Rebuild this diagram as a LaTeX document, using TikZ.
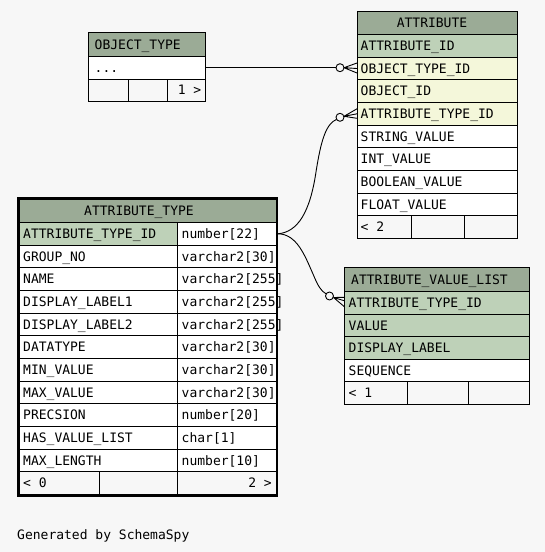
\documentclass[tikz,border=0pt]{standalone}
\usepackage{fontspec}
\newfontfamily\monofnt{DejaVu Sans Mono}
\definecolor{bgc}{HTML}{F7F7F7}
\definecolor{hdrc}{HTML}{9BAB96}
\definecolor{pkc}{HTML}{BED1B8}
\definecolor{idxc}{HTML}{F4F7DA}
\begin{document}
\begin{tikzpicture}[x=1pt,y=-1pt,
  cellbox/.style={draw=black, line width=1pt},
  txt/.style={font=\monofnt\fontsize{13}{13}\selectfont, anchor=base west, inner sep=0pt},
  txtr/.style={txt, anchor=base east},
  txtc/.style={txt, anchor=base},
  rel/.style={draw=black, line width=0.9pt},
  ring/.style={draw=black, line width=0.9pt, fill=bgc},
]
\fill[bgc] (0,0) rectangle (545,552);
\useasboundingbox (0,0) rectangle (545,552);

% ---------------- OBJECT_TYPE ----------------
\filldraw[fill=hdrc, cellbox] (88.5,32.5) rectangle (205,56);
\filldraw[fill=white, cellbox] (88.5,56) rectangle (205,79);
\draw[cellbox] (88.5,79) rectangle (205,101);
\draw[cellbox] (128.5,79) -- (128.5,101) (167.5,79) -- (167.5,101);
\node[txt] (otH) at (94.5,49) {OBJECT\_TYPE};
\node[txt] (otR) at (94.5,72.2) {...};
\node[txtr] (otF) at (201.5,94.7) {1 >};
\coordinate (otE) at (205,67.7);

% ---------------- ATTRIBUTE ----------------
\filldraw[fill=hdrc, cellbox] (357,11) rectangle (517,34.5);
\node[txtc] (atH) at (432,27.5) {ATTRIBUTE};
\foreach \i/\f/\t in {1/pkc/ATTRIBUTE\_ID, 2/idxc/OBJECT\_TYPE\_ID, 3/idxc/OBJECT\_ID,
  4/idxc/ATTRIBUTE\_TYPE\_ID, 5/white/STRING\_VALUE, 6/white/INT\_VALUE,
  7/white/BOOLEAN\_VALUE, 8/white/FLOAT\_VALUE} {
  \pgfmathsetmacro\ya{34.5+(\i-1)*22.67}
  \pgfmathsetmacro\yb{\ya+22.67}
  \pgfmathsetmacro\yt{(\ya+\yb)/2+4.74}
  \filldraw[fill=\f, cellbox] (357,\ya) rectangle (517,\yb);
  \node[txt] (at\i) at (360.5,\yt) {\t};
}
\draw[cellbox] (357,215.86) rectangle (517,238.5);
\draw[cellbox] (411.5,215.86) -- (411.5,238.5) (464.5,215.86) -- (464.5,238.5);
\node[txt] (atF) at (360.5,231.9) {< 2};
\coordinate (atOT) at (357,68.5);
\coordinate (atAT) at (357,113.8);

% ---------------- ATTRIBUTE_TYPE ----------------
\filldraw[fill=hdrc, cellbox] (19,199) rectangle (276,222.5);
\node[txtc] (tyH) at (139,215.5) {ATTRIBUTE\_TYPE};
\foreach \i/\f/\t/\d in {1/pkc/ATTRIBUTE\_TYPE\_ID/number[22], 2/white/GROUP\_NO/varchar2[30],
  3/white/NAME/varchar2[255], 4/white/DISPLAY\_LABEL1/varchar2[255],
  5/white/DISPLAY\_LABEL2/varchar2[255], 6/white/DATATYPE/varchar2[30],
  7/white/MIN\_VALUE/varchar2[30], 8/white/MAX\_VALUE/varchar2[30],
  9/white/PRECSION/number[20], 10/white/HAS\_VALUE\_LIST/char[1],
  11/white/MAX\_LENGTH/number[10]} {
  \pgfmathsetmacro\ya{222.5+(\i-1)*22.67}
  \pgfmathsetmacro\yb{\ya+22.67}
  \pgfmathsetmacro\yt{(\ya+\yb)/2+4.74}
  \filldraw[fill=\f, cellbox] (19,\ya) rectangle (177,\yb);
  \filldraw[fill=white, cellbox] (177,\ya) rectangle (276,\yb);
  \node[txt] (ty\i) at (23,\yt) {\t};
  \begin{scope}
    \clip (177,\ya) rectangle (280,\yb);
    \node[txt] (tyd\i) at (181.5,\yt) {\d};
  \end{scope}
}
\draw[cellbox] (19,471.87) rectangle (276,494.5);
\draw[cellbox] (99,471.87) -- (99,494.5) (177,471.87) -- (177,494.5);
\node[txt] (tyF1) at (23,487.9) {< 0};
\node[txtr] (tyF2) at (272,487.9) {2 >};
\draw[line width=2.5pt] (18.25,198.25) rectangle (276.75,495.75);
\coordinate (tyE) at (278,233.8);

% ---------------- ATTRIBUTE_VALUE_LIST ----------------
\filldraw[fill=hdrc, cellbox] (344.5,267) rectangle (529,291.5);
\node[txtc] (avH) at (429.5,284) {ATTRIBUTE\_VALUE\_LIST};
\foreach \i/\f/\t in {1/pkc/ATTRIBUTE\_TYPE\_ID, 2/pkc/VALUE, 3/pkc/DISPLAY\_LABEL, 4/white/SEQUENCE} {
  \pgfmathsetmacro\ya{291.5+(\i-1)*22.6}
  \pgfmathsetmacro\yb{\ya+22.6}
  \pgfmathsetmacro\yt{(\ya+\yb)/2+4.74}
  \filldraw[fill=\f, cellbox] (344.5,\ya) rectangle (529,\yb);
  \node[txt] (av\i) at (348.5,\yt) {\t};
}
\draw[cellbox] (344.5,381.9) rectangle (529,404.5);
\draw[cellbox] (407.5,381.9) -- (407.5,404.5) (468.5,381.9) -- (468.5,404.5);
\node[txt] (avF) at (348.5,397.9) {< 1};
\coordinate (avAT) at (344.5,302.8);

% ---------------- relationships ----------------
% OBJECT_TYPE -> ATTRIBUTE.OBJECT_TYPE_ID
\coordinate (c1) at (340,67.7);
\coordinate (k1) at (344,67.7);
\draw[rel] (otE) -- (336,67.7);
\draw[ring] (c1) circle (4);
\draw[rel] (k1) -- ([yshift=5.5]atOT) (k1) -- (atOT) (k1) -- ([yshift=-4.5]atOT);

% ATTRIBUTE_TYPE -> ATTRIBUTE.ATTRIBUTE_TYPE_ID
\coordinate (c2) at (340,117.3);
\coordinate (k2) at (344,116.3);
\draw[rel] (tyE) .. controls (298,232) and (310,212) .. (316,172)
  .. controls (321,140) and (326,124) .. (336.6,119.3);
\draw[ring] (c2) circle (4);
\draw[rel] (k2) -- ([yshift=5]atAT) (k2) -- (atAT) (k2) -- ([yshift=-4.5]atAT);

% ATTRIBUTE_TYPE -> ATTRIBUTE_VALUE_LIST.ATTRIBUTE_TYPE_ID
\coordinate (c3) at (329.5,296);
\coordinate (k3) at (333.5,297.5);
\draw[rel] (tyE) .. controls (297,234) and (305,256) .. (313,274)
  .. controls (318,286) and (321,291) .. (326,293.8);
\draw[ring] (c3) circle (4);
\draw[rel] (k3) -- ([yshift=5.5]avAT) (k3) -- ([yshift=2]avAT) (k3) -- ([yshift=-4]avAT);

% footer text
\node[txt] (gen) at (17,539) {Generated by SchemaSpy};
\end{tikzpicture}
\end{document}
